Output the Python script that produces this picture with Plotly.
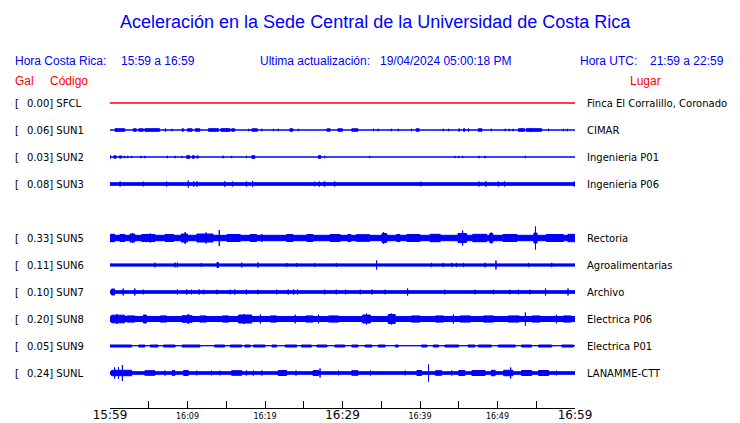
import plotly.graph_objects as go

# ---------------- data ----------------
STATION_CODES = ["SFCL", "SUN1", "SUN2", "SUN3", "SUN5", "SUN6", "SUN7", "SUN8", "SUN9", "SUNL"]
PEAK_GAL = [0.00, 0.06, 0.03, 0.08, 0.33, 0.11, 0.10, 0.20, 0.05, 0.24]
PLACES = ["Finca El Corralillo, Coronado", "CIMAR", "Ingenieria P01", "Ingenieria P06",
          "Rectoria", "Agroalimentarias", "Archivo", "Electrica P06", "Electrica P01", "LANAMME-CTT"]
ROW_INDEX = [0, 1, 2, 3, 5, 6, 7, 8, 9, 10]   # SUN4 row is empty
TRACE_COLORS = ["red"] + ["blue"] * 9

# envelope (half-width, px) of the continuous background signal
BASE_AMP = [0.5, 0.5, 0.5, 1.8, 3.2, 1.6, 1.8, 3.0, 0.8, 1.8]

# bursts: (start minute, end minute, half-width px)
SFCL_BURSTS = []
SUN1_BURSTS = [(0.65, 1.9, 1.8), (3.0, 3.4, 1.7), (3.7, 4.3, 1.7), (4.5, 6.4, 1.8), (7.1, 7.2, 1.7),
               (8.0, 8.0, 1.7), (9.3, 9.5, 1.7), (10.0, 10.6, 1.7), (11.0, 11.6, 1.7), (12.7, 14.0, 1.8),
               (14.3, 15.5, 1.8), (15.1, 15.1, 2.5), (15.7, 16.1, 1.7), (17.9, 17.9, 1.7), (18.3, 19.0, 1.7),
               (19.6, 19.6, 1.7), (21.1, 21.1, 1.7), (21.7, 21.7, 1.7), (23.2, 23.6, 1.7), (24.3, 24.3, 1.7),
               (28.0, 28.4, 1.7), (29.4, 30.0, 1.7), (31.2, 32.0, 1.7), (34.0, 34.0, 1.7), (34.6, 34.6, 1.7),
               (36.3, 36.3, 1.7), (37.2, 37.2, 1.7), (38.9, 38.9, 1.7), (39.5, 39.9, 1.7), (43.0, 43.0, 1.7),
               (43.7, 43.7, 1.7), (45.0, 45.1, 1.7), (45.6, 45.8, 1.7), (46.2, 46.3, 1.7), (47.5, 48.0, 1.7),
               (49.2, 49.2, 1.7), (51.0, 51.0, 1.7), (51.5, 51.5, 1.7), (52.0, 52.0, 1.7), (52.7, 53.5, 1.8),
               (53.7, 55.7, 1.8), (54.3, 54.3, 2.6), (56.6, 56.6, 1.7), (58.5, 58.5, 1.7), (59.0, 59.0, 1.7)]
SUN2_BURSTS = [(0.0, 0.1, 1.7), (0.5, 0.8, 1.7), (1.2, 1.5, 1.6), (1.85, 1.85, 1.7), (2.3, 2.3, 1.7),
               (2.8, 2.8, 1.6), (4.0, 4.0, 1.7), (4.5, 4.5, 1.7), (7.4, 7.4, 1.7), (8.4, 8.4, 1.7),
               (9.3, 9.3, 1.6), (9.9, 10.3, 1.8), (10.6, 10.9, 1.7), (11.2, 11.4, 1.6), (14.6, 14.6, 1.8),
               (15.7, 15.7, 1.6), (17.6, 17.6, 1.7), (18.3, 18.7, 1.8), (26.9, 27.2, 1.8), (27.7, 27.7, 1.7),
               (33.5, 33.5, 1.6), (44.5, 44.5, 1.6), (45.0, 45.0, 1.6), (45.5, 45.5, 1.6), (47.6, 47.6, 1.7),
               (48.4, 48.4, 1.7), (53.6, 53.6, 1.7)]
SUN3_BURSTS = [(1.3, 1.3, 3.0), (4.3, 4.3, 2.8), (7.3, 7.3, 3.0), (10.1, 10.1, 4.0), (10.8, 10.8, 3.2),
               (11.2, 11.2, 3.2), (14.8, 14.8, 3.2), (15.8, 15.8, 3.0), (17.6, 17.6, 3.0), (18.4, 18.4, 3.4),
               (26.4, 26.4, 2.8), (27.0, 27.0, 3.0), (27.7, 27.7, 3.0), (29.0, 29.0, 3.0), (40.1, 40.1, 2.8),
               (47.6, 47.6, 3.0), (48.5, 48.5, 3.2), (50.1, 50.1, 3.0), (50.9, 50.9, 3.0), (59.9, 59.9, 3.0)]
SUN5_BURSTS = [(0.0, 0.6, 4.2), (1.3, 1.9, 4.0), (2.6, 3.2, 4.5), (2.9, 2.9, 5.5), (4.1, 5.8, 4.0),
               (5.2, 5.2, 5.0), (7.1, 8.2, 4.0), (9.2, 10.0, 4.5), (9.7, 9.7, 6.5), (11.2, 13.3, 4.5),
               (12.4, 12.4, 6.0), (14.1, 14.1, 8.5), (15.1, 16.8, 4.0), (18.1, 18.9, 4.0), (19.6, 19.6, 4.5),
               (22.8, 23.6, 4.0), (25.4, 26.2, 4.0), (28.4, 29.7, 4.0), (30.7, 31.1, 4.0), (31.8, 33.5, 3.8),
               (35.1, 35.7, 5.0), (35.3, 35.3, 6.5), (37.0, 37.4, 4.0), (38.3, 40.0, 4.0), (41.3, 42.6, 4.2),
               (44.9, 46.0, 5.0), (45.5, 45.5, 8.0), (46.8, 48.6, 4.2), (49.0, 49.4, 5.0), (49.2, 49.2, 6.0),
               (50.7, 52.5, 4.0), (54.9, 54.9, 12.0), (54.7, 55.1, 5.5), (56.3, 58.5, 4.0), (59.1, 60.0, 4.2)]
SUN6_BURSTS = [(5.8, 5.8, 2.8), (8.4, 8.4, 2.8), (8.7, 8.7, 2.8), (11.8, 11.8, 2.5), (13.8, 14.0, 3.0),
               (17.0, 17.0, 2.8), (19.1, 19.1, 3.0), (22.8, 22.8, 2.5), (24.1, 24.1, 2.5), (26.4, 26.4, 2.5),
               (29.2, 29.2, 2.5), (34.4, 34.4, 5.0), (41.5, 41.5, 2.6), (43.0, 43.0, 2.6), (44.1, 44.1, 2.6),
               (44.7, 44.7, 2.6), (45.6, 45.6, 2.6), (48.4, 48.4, 2.8), (49.8, 49.8, 5.0), (54.0, 54.0, 2.6),
               (57.0, 57.0, 2.6)]
SUN7_BURSTS = [(0.2, 0.6, 3.5), (1.7, 1.7, 4.0), (3.2, 3.2, 4.0), (4.3, 4.3, 2.8), (8.7, 8.7, 3.0),
               (9.9, 9.9, 3.0), (10.5, 10.5, 2.8), (11.5, 11.5, 3.0), (12.1, 12.1, 2.8), (13.8, 13.8, 2.8),
               (15.5, 15.5, 2.8), (16.1, 16.1, 3.0), (17.6, 17.6, 3.0), (19.1, 19.1, 2.8), (21.5, 21.5, 2.8),
               (23.0, 23.0, 3.0), (23.7, 23.7, 3.0), (24.2, 24.2, 3.0), (27.7, 27.7, 2.8), (29.2, 29.2, 2.8),
               (30.4, 30.4, 2.8), (32.3, 32.3, 2.8), (33.8, 33.8, 3.0), (35.5, 35.5, 2.8), (38.4, 38.4, 4.0),
               (43.2, 43.2, 2.8), (47.1, 47.1, 2.8), (49.5, 49.5, 2.8), (51.6, 51.6, 2.8), (52.7, 52.7, 2.8),
               (54.2, 54.2, 2.8), (56.2, 56.2, 4.0), (59.1, 59.1, 4.0)]
SUN8_BURSTS = [(0.2, 1.9, 4.3), (0.9, 0.9, 5.5), (2.2, 3.2, 3.6), (4.3, 4.7, 4.5), (6.5, 7.3, 3.6),
               (9.3, 10.6, 3.8), (10.1, 10.1, 5.5), (11.6, 12.4, 3.6), (14.5, 15.3, 3.6), (16.6, 18.3, 4.5),
               (17.3, 17.3, 5.5), (19.4, 19.4, 5.0), (20.7, 21.5, 3.6), (23.9, 23.9, 4.8), (25.3, 26.2, 3.6),
               (26.9, 26.9, 4.8), (28.2, 29.5, 3.6), (33.1, 33.1, 6.0), (32.6, 33.6, 4.5), (35.9, 36.8, 5.0),
               (36.3, 36.3, 6.0), (38.9, 40.0, 3.6), (42.0, 43.0, 3.6), (44.3, 44.3, 5.0), (45.2, 46.5, 3.6),
               (48.2, 49.5, 3.6), (51.4, 52.8, 3.6), (53.6, 53.6, 7.0), (54.5, 55.5, 3.6), (57.6, 57.6, 4.8),
               (58.5, 59.5, 3.6)]
SUN9_BURSTS = [(0.0, 2.8, 1.5), (3.7, 4.5, 1.5), (5.2, 6.2, 1.5), (6.9, 8.4, 1.5), (9.3, 11.6, 1.5),
               (13.5, 14.8, 1.5), (15.5, 17.0, 1.5), (17.4, 18.1, 1.5), (18.5, 20.0, 1.5), (20.9, 21.5, 1.5),
               (22.6, 24.1, 1.5), (24.7, 26.0, 1.5), (26.7, 28.0, 1.5), (29.0, 30.3, 1.5), (31.2, 32.0, 1.5),
               (32.9, 33.8, 1.5), (34.6, 35.5, 1.5), (36.8, 37.2, 1.5), (40.2, 40.9, 1.5), (41.7, 42.4, 1.5),
               (43.2, 45.0, 1.5), (46.2, 47.1, 1.5), (47.5, 49.2, 1.5), (50.1, 52.3, 1.5), (53.1, 54.4, 1.5),
               (55.3, 57.0, 1.5), (58.3, 59.8, 1.5)]
SUNL_BURSTS = [(0.2, 2.8, 3.2), (0.6, 0.6, 6.0), (1.1, 1.1, 6.5), (1.6, 1.6, 8.5), (4.5, 5.8, 2.8),
               (7.1, 7.1, 3.0), (8.0, 8.4, 2.8), (9.5, 10.1, 3.0), (11.2, 11.2, 2.8), (13.1, 13.1, 2.8),
               (14.2, 14.2, 2.8), (15.7, 17.0, 2.8), (17.6, 17.6, 3.0), (18.5, 18.5, 3.0), (19.6, 19.6, 3.0),
               (21.7, 22.8, 3.0), (24.0, 24.0, 3.0), (26.2, 26.9, 3.0), (27.1, 27.1, 5.0), (29.5, 29.5, 2.8),
               (31.2, 32.0, 2.8), (33.6, 33.6, 3.0), (38.1, 38.1, 2.8), (39.6, 40.2, 3.0), (41.1, 41.1, 9.0),
               (42.0, 42.8, 2.8), (44.1, 44.1, 3.0), (45.0, 45.8, 3.0), (46.7, 48.4, 3.0), (49.2, 49.7, 3.2),
               (50.8, 52.0, 3.2), (51.7, 51.7, 6.0), (53.1, 54.4, 3.0), (55.3, 56.6, 3.0), (57.6, 57.6, 2.8)]
ALL_BURSTS = [SFCL_BURSTS, SUN1_BURSTS, SUN2_BURSTS, SUN3_BURSTS, SUN5_BURSTS,
              SUN6_BURSTS, SUN7_BURSTS, SUN8_BURSTS, SUN9_BURSTS, SUNL_BURSTS]

TICK_MINUTES = list(range(0, 61, 5))
TICK_LABELS = ["15:59", "", "16:09", "", "16:19", "", "16:29", "", "16:39", "", "16:49", "", "16:59"]
MAJOR_LABELS = {"15:59", "16:29", "16:59"}

# ---------------- layout constants ----------------
W, H = 740, 423
ROW0_Y, ROW_STEP = 103, 27
AXIS_Y = 408
BLUE = "#0000ff"
RED = "#ff0000"
HEAD_FONT = "Liberation Sans, Arial, sans-serif"
LAB_FONT = "DejaVu Sans, sans-serif"

fig = go.Figure()

for i, code in enumerate(STATION_CODES):
    yc = ROW0_Y + ROW_STEP * ROW_INDEX[i]
    xs, ys = [], []
    for (t0, t1, a) in [(0, 60, BASE_AMP[i])] + ALL_BURSTS[i]:
        h = max(a - 0.5, 0)
        xs += [t0, t1, t1, t0, t0, None]
        ys += [yc - h, yc - h, yc + h, yc + h, yc - h, None]
    fig.add_trace(go.Scatter(x=xs, y=ys, mode="lines", fill="toself",
                             fillcolor=TRACE_COLORS[i],
                             line=dict(color=TRACE_COLORS[i], width=1),
                             hoverinfo="skip", showlegend=False))

ann = []
def text(x, y, s, color, size, font, xanchor="left"):
    ann.append(dict(x=x, y=y, xref="paper", yref="y", text=s, showarrow=False,
                    xanchor=xanchor, yanchor="middle", borderpad=0, borderwidth=0,
                    font=dict(color=color, size=size, family=font)))

for i, code in enumerate(STATION_CODES):
    yc = ROW0_Y + ROW_STEP * ROW_INDEX[i]
    text(15 / W, yc, "[", "black", 10, LAB_FONT)
    text(27 / W, yc, f"{PEAK_GAL[i]:.2f}] {code}", "black", 10, LAB_FONT)
    text(587 / W, yc, PLACES[i], "black", 10, LAB_FONT)

text(375 / W, 22, "Aceleración en la Sede Central de la Universidad de Costa Rica", BLUE, 18, HEAD_FONT, "center")
text(15 / W, 61, "Hora Costa Rica:", BLUE, 12, HEAD_FONT)
text(121 / W, 61, "15:59 a 16:59", BLUE, 12, HEAD_FONT)
text(260 / W, 61, "Ultima actualización:", BLUE, 12, HEAD_FONT)
text(380 / W, 61, "19/04/2024 05:00:18 PM", BLUE, 12, HEAD_FONT)
text(580 / W, 61, "Hora UTC:", BLUE, 12, HEAD_FONT)
text(650 / W, 61, "21:59 a 22:59", BLUE, 12, HEAD_FONT)
text(15 / W, 81, "Gal", RED, 12, HEAD_FONT)
text(50 / W, 81, "Código", RED, 12, HEAD_FONT)
text(630 / W, 81, "Lugar", RED, 12, HEAD_FONT)

ticktext = [f'<span style="font-size:12px">{t}</span>' if t in MAJOR_LABELS else t for t in TICK_LABELS]

fig.update_layout(
    width=W, height=H, margin=dict(l=0, r=0, t=0, b=0, pad=0, autoexpand=False),
    paper_bgcolor="white", plot_bgcolor="white",
    annotations=ann,
    xaxis=dict(domain=[110 / W, 575 / W], range=[0, 60], showgrid=False, zeroline=False,
               showline=True, linecolor="black", linewidth=1, automargin=False,
               ticks="inside", ticklen=7, tickwidth=1, tickcolor="black",
               tickvals=TICK_MINUTES, ticktext=ticktext, tickangle=0,
               tickfont=dict(family=LAB_FONT, size=8, color="black"), fixedrange=True),
    yaxis=dict(domain=[(H - AXIS_Y) / H, 1], range=[AXIS_Y, 0], visible=False, fixedrange=True,
               automargin=False),
)

fig.write_html("out.html", config={"displayModeBar": False},
               post_script="document.body.style.margin='0px';document.body.style.overflow='hidden';")
